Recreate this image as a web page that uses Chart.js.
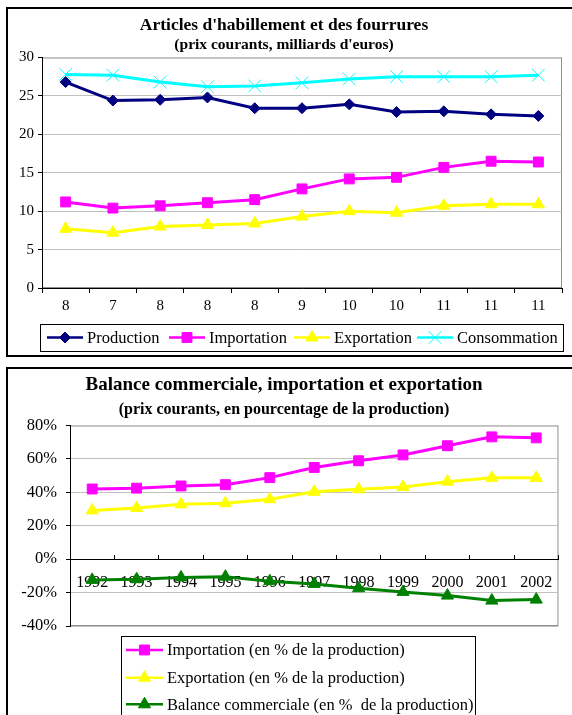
<!DOCTYPE html>
<html lang="fr">
<head>
<meta charset="UTF-8">
<title>Articles d'habillement et des fourrures</title>
<script src="https://cdn.jsdelivr.net/npm/chart.js"></script>
<style>
  html, body { margin: 0; padding: 0; background: #fff; width: 572px; height: 715px; overflow: hidden; }
  canvas { position: absolute; left: 0; }
  .cadre { position: absolute; border: 2px solid #000; box-sizing: border-box; pointer-events: none; }
</style>
</head>
<body>
<canvas id="graph1" width="572" height="360" style="top:0"></canvas>
<canvas id="graph2" width="572" height="355" style="top:360px"></canvas>
<div class="cadre" style="left:6px;top:7px;width:600px;height:350px"></div>
<div class="cadre" style="left:6px;top:367px;width:600px;height:400px"></div>
<script>
// --- données graphique 1 (milliards d'euros)
const etiquettes1 = ['8', '7', '8', '8', '8', '9', '10', '10', '11', '11', '11'];
const production   = [26.8, 24.4, 24.5, 24.8, 23.4, 23.4, 23.9, 22.9, 23.0, 22.6, 22.4];
const importation  = [11.2, 10.4, 10.7, 11.1, 11.5, 12.9, 14.2, 14.4, 15.7, 16.5, 16.4];
const exportation  = [7.7, 7.2, 8.0, 8.2, 8.4, 9.3, 10.0, 9.8, 10.7, 10.9, 10.9];
const consommation = [27.8, 27.7, 26.8, 26.2, 26.3, 26.7, 27.2, 27.5, 27.5, 27.5, 27.7];

// --- données graphique 2 (% de la production)
const annees     = ['1992', '1993', '1994', '1995', '1996', '1997', '1998', '1999', '2000', '2001', '2002'];
const importPct  = [42.0, 42.5, 43.8, 44.6, 48.8, 54.9, 58.9, 62.4, 67.9, 73.2, 72.6];
const exportPct  = [29.2, 30.6, 32.8, 33.5, 35.9, 40.3, 41.8, 43.2, 46.4, 48.7, 48.7];
const balancePct = [-12.4, -12.0, -10.9, -10.5, -13.2, -14.8, -17.4, -19.6, -21.8, -24.8, -24.2];

const serif = "'Liberation Serif', 'Times New Roman', serif";
Chart.defaults.font.family = serif;
Chart.defaults.color = '#000';

function serie(label, data, couleur, forme, rayon) {
  return {
    label: label,
    data: data,
    borderColor: couleur,
    backgroundColor: couleur,
    borderWidth: 3,
    pointStyle: forme,
    pointRadius: rayon,
    pointBorderWidth: 1,
    tension: 0
  };
}

// cadre gris autour de la zone de tracé
const cadrePlot = {
  id: 'cadrePlot',
  beforeDraw(chart) {
    const a = chart.chartArea;
    const ctx = chart.ctx;
    ctx.save();
    ctx.strokeStyle = '#909090';
    ctx.lineWidth = 1;
    ctx.strokeRect(a.left + 0.5, a.top + 0.5, a.right - a.left - 1, a.bottom - a.top - 1);
    ctx.restore();
  }
};

// légende façon Excel : trait + marqueur, dans un cadre
const legendeExcel = {
  id: 'legendeExcel',
  afterDraw(chart, args, opts) {
    const ctx = chart.ctx;
    const [l, t, r, b] = opts.box;
    ctx.save();
    ctx.strokeStyle = '#000';
    ctx.lineWidth = 1;
    ctx.strokeRect(l + 0.5, t + 0.5, r - l, b - t);
    ctx.font = opts.fontSize + 'px ' + serif;
    ctx.textBaseline = 'middle';
    chart.data.datasets.forEach((ds, i) => {
      const [x, y] = opts.items[i];
      ctx.strokeStyle = ds.borderColor;
      ctx.lineWidth = 2.5;
      ctx.beginPath();
      ctx.moveTo(x, y);
      ctx.lineTo(x + opts.sample, y);
      ctx.stroke();
      ctx.fillStyle = ds.backgroundColor;
      ctx.lineWidth = 1;
      Chart.helpers.drawPoint(ctx, { pointStyle: ds.pointStyle, radius: ds.pointRadius, rotation: 0, borderWidth: 1 }, x + opts.sample / 2, y);
      ctx.fillStyle = '#000';
      ctx.fillText(ds.label, x + opts.sample + 4, y + 1);
    });
    ctx.restore();
  }
};

new Chart(document.getElementById('graph1'), {
  type: 'line',
  data: {
    labels: etiquettes1,
    datasets: [
      serie('Production', production, '#000080', 'rectRot', 5.5),
      serie('Importation', importation, '#ff00ff', 'rect', 7),
      serie('Exportation', exportation, '#ffff00', 'triangle', 7),
      serie('Consommation', consommation, '#00ffff', 'crossRot', 9)
    ]
  },
  options: {
    responsive: false,
    animation: false,
    devicePixelRatio: 1,
    layout: { padding: { top: 0, right: 4, bottom: 42, left: 0 } },
    plugins: {
      legend: { display: false },
      tooltip: { enabled: false },
      title: {
        display: true,
        text: "Articles d'habillement et des fourrures",
        color: '#000',
        font: { size: 17.5, weight: 'bold' },
        padding: { top: 14.5, bottom: 0 }
      },
      subtitle: {
        display: true,
        text: "(prix courants, milliards d'euros)",
        color: '#000',
        font: { size: 15.5, weight: 'bold' },
        padding: { top: 0.2, bottom: 3.2 }
      },
      legendeExcel: {
        box: [40, 324, 563, 351],
        items: [[47, 337.5], [169, 337.5], [294, 337.5], [417, 337.5]],
        sample: 36,
        fontSize: 16.5
      }
    },
    scales: {
      x: {
        offset: true,
        grid: { offset: true, drawOnChartArea: false, tickLength: 5, color: '#000' },
        border: { color: '#000' },
        ticks: { padding: 4.5, font: { size: 15 }, maxRotation: 0, autoSkip: false },
        afterFit: s => { s.height = 30; }
      },
      y: {
        min: 0,
        max: 30,
        ticks: { stepSize: 5, padding: 4, font: { size: 15 } },
        grid: { color: '#c0c0c0', tickColor: '#000', tickLength: 4 },
        border: { color: '#000' },
        afterFit: s => { s.width = 42; }
      }
    }
  },
  plugins: [cadrePlot, legendeExcel]
});

new Chart(document.getElementById('graph2'), {
  type: 'line',
  data: {
    labels: annees,
    datasets: [
      serie('Importation (en % de la production)', importPct, '#ff00ff', 'rect', 7),
      serie('Exportation (en % de la production)', exportPct, '#ffff00', 'triangle', 7),
      serie('Balance commerciale (en %  de la production)', balancePct, '#008000', 'triangle', 7)
    ]
  },
  options: {
    responsive: false,
    animation: false,
    devicePixelRatio: 1,
    layout: { padding: { top: 0, right: 4, bottom: 89, left: 0 } },
    plugins: {
      legend: { display: false },
      tooltip: { enabled: false },
      title: {
        display: true,
        text: 'Balance commerciale, importation et exportation',
        color: '#000',
        font: { size: 19, weight: 'bold' },
        padding: { top: 13.6, bottom: 0 }
      },
      subtitle: {
        display: true,
        text: '(prix courants, en pourcentage de la production)',
        color: '#000',
        font: { size: 16, weight: 'bold' },
        padding: { top: 4, bottom: 5.9 }
      },
      legendeExcel: {
        box: [121, 276, 475, 400],
        items: [[126, 290], [126, 317.7], [126, 344.3]],
        sample: 37,
        fontSize: 16.5
      }
    },
    scales: {
      x: {
        position: { y: 0 },
        offset: true,
        grid: { offset: true, drawOnChartArea: false, tickLength: -5, color: '#000' },
        border: { color: '#000' },
        ticks: { padding: 19.4, font: { size: 16 }, maxRotation: 0, autoSkip: false }
      },
      y: {
        min: -40,
        max: 80,
        ticks: { stepSize: 20, padding: 9, font: { size: 16.5 }, callback: v => v + '%' },
        grid: { color: '#c0c0c0', tickColor: '#000', tickLength: 4 },
        border: { color: '#000' },
        afterFit: s => { s.width = 70; }
      }
    }
  },
  plugins: [cadrePlot, legendeExcel]
});
</script>
</body>
</html>
